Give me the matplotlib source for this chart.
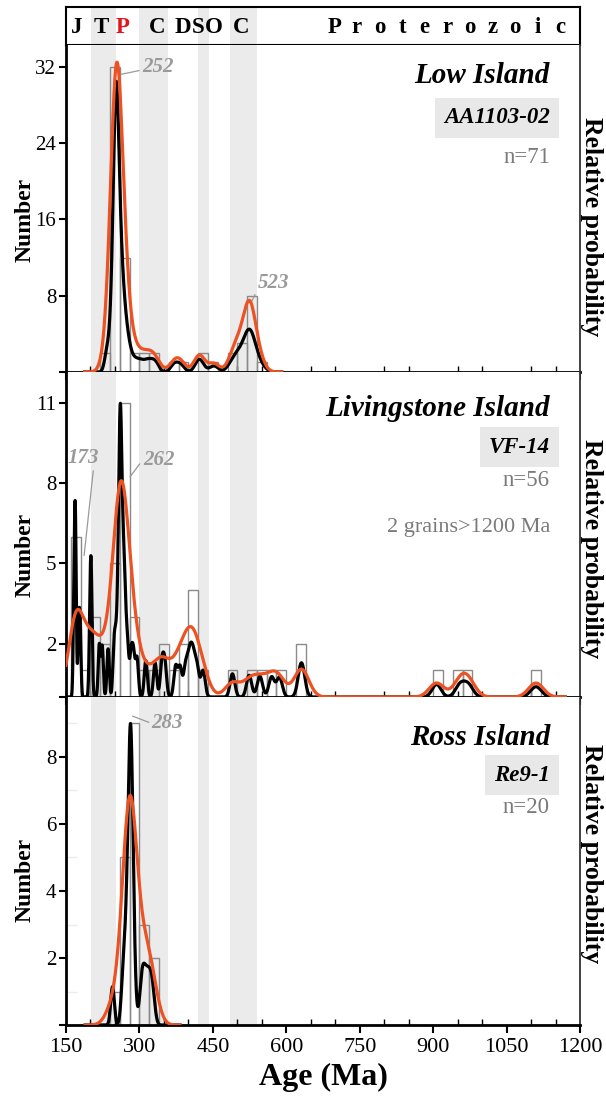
import numpy as np
import matplotlib.pyplot as plt

plt.rcParams['font.family'] = ['Liberation Serif', 'DejaVu Serif']

# shaded periods (Ma): Triassic, Carboniferous, Silurian, Cambrian
band_starts = [201, 299, 419, 485]
band_ends = [252, 359, 443, 541]

period_letters = ['J', 'T', 'P', 'C', 'D', 'S', 'O', 'C']
period_ages = [172, 222, 265, 337, 388, 421, 451, 508]
period_colors = ['black', 'black', '#e3141b', 'black', 'black', 'black', 'black', 'black']

sample_names = ['Low Island', 'Livingstone Island', 'Ross Island']
sample_ids = ['AA1103-02', 'VF-14', 'Re9-1']

# U-Pb zircon ages (Ma)
low_island_ages = [
    232, 237,
    241, 244, 246, 247, 248, 249, 249, 250, 250, 250, 251, 251, 251, 252,
    252, 252, 252, 253, 253, 253, 253, 254, 254, 254, 255, 255, 255, 256,
    256, 257, 258, 259,
    260, 261, 262, 263, 264, 265, 266, 268, 270, 272, 275, 278,
    284, 293, 303, 314, 324, 334, 371, 384, 421, 424, 452,
    488, 496, 503, 508, 514,
    521, 522, 524, 525, 526, 528, 532, 537, 547,
]
livingstone_ages = [
    166, 168, 169, 170, 176, 179, 199, 201, 202, 218, 224, 236,
    248, 252, 256, 258, 259,
    260, 261, 261, 262, 263, 264, 266, 268, 269, 272, 276,
    283, 288, 295, 313, 332, 346, 352, 374, 383, 394,
    401, 406, 411, 418, 430, 490, 524, 546, 570, 586, 629, 633,
    907, 955, 972, 1110, 1650, 2050,
]
ross_ages = [
    245, 266, 271, 274, 277, 279,
    280, 281, 282, 282, 283, 283, 284, 286, 289,
    304, 309, 315, 321, 327,
]
all_ages = [low_island_ages, livingstone_ages, ross_ages]

# relative 1-sigma of single grains and KDE bandwidth (Ma)
grain_err = [0.02, 0.01, 0.015]
kde_bw = [11, 15, 14]
# curve heights on the count axis
pdp_peak = [30.5, 11, 9]
kde_peak = [32.5, 8.1, 6.85]

y_top = [34.3, 12.17, 9.79]
y_ticks = [[8, 16, 24, 32], [2, 5, 8, 11], [2, 4, 6, 8]]

bin_edges = np.arange(140, 1221, 20)
x_min, x_max = 150, 1200

band_color = '#ebebeb'
kde_color = '#ee5222'
hist_color = '#8a8a8a'
note_color = '#9a9a9a'


def pdp_curve(ages, grid, rel_err):
    a = np.asarray(ages, float)
    s = a * rel_err
    z = (grid[:, None] - a[None, :]) / s[None, :]
    return (np.exp(-0.5 * z ** 2) / s).sum(axis=1)


def kde_curve(ages, grid, bw):
    a = np.asarray(ages, float)
    z = (grid[:, None] - a[None, :]) / bw
    return np.exp(-0.5 * z ** 2).sum(axis=1)


fig = plt.figure(figsize=(6.06, 10.99), dpi=100)
left, width = 0.1089, 0.8482

# period strip
ax_s = fig.add_axes([left, 0.9591, width, 0.0346])
ax_s.set_xlim(x_min, x_max)
ax_s.set_ylim(0, 1)
ax_s.set_xticks([])
ax_s.set_yticks([])
for sp in ax_s.spines.values():
    sp.set_linewidth(1.5)
for a, b in zip(band_starts, band_ends):
    ax_s.axvspan(a, b, color=band_color, lw=0, zorder=0)
for letter, age, c in zip(period_letters, period_ages, period_colors):
    ax_s.text(age, 0.47, letter, ha='center', va='center', fontsize=16.5,
              fontweight='bold', color=c)
for letter, age in zip('Proterozoic', np.linspace(698, 1160, 11)):
    ax_s.text(age, 0.47, letter, ha='center', va='center', fontsize=16.5,
              fontweight='bold')

panel_bottoms = [0.6615, 0.3658, 0.0673]
panel_heights = [0.2975, 0.2957, 0.2985]
title_y = [0.908, 0.889, 0.878]
id_y = [0.777, 0.769, 0.762]
n_y = [0.657, 0.667, 0.662]
number_y = [0.465, 0.437, 0.442]
relprob_y = [0.446, 0.455, 0.524]

grid = np.linspace(100, 1250, 8000)

axes = []
for i in range(3):
    ax = fig.add_axes([left, panel_bottoms[i], width, panel_heights[i]])
    axes.append(ax)
    ages = np.asarray(all_ages[i], float)

    for a, b in zip(band_starts, band_ends):
        ax.axvspan(a, b, color=band_color, lw=0, zorder=0)

    ax.hist(ages, bins=bin_edges, histtype='bar', fill=False,
            edgecolor=hist_color, linewidth=1.0, zorder=2)

    shown = ages[ages <= x_max]
    lo = shown.min() - 4 * kde_bw[i]
    hi = shown.max() + 4 * kde_bw[i]
    m = (grid >= lo) & (grid <= hi)
    p = pdp_curve(ages, grid, grain_err[i])
    k = kde_curve(ages, grid, kde_bw[i])
    ax.plot(grid[m], p[m] / p.max() * pdp_peak[i], color='black', lw=2.3, zorder=3)
    ax.plot(grid[m], k[m] / k.max() * kde_peak[i], color=kde_color, lw=2.3, zorder=4)

    ax.set_xlim(x_min, x_max)
    ax.set_ylim(0, y_top[i])
    ax.set_yticks([0] + y_ticks[i], [''] + [str(t) for t in y_ticks[i]])
    ax.set_xticks(np.arange(150, 1201, 150))
    ax.set_xticks(np.arange(150, 1201, 50), minor=True)
    ax.tick_params(axis='x', which='major', direction='out', length=6, width=1.5,
                   labelsize=16, labelbottom=(i == 2))
    ax.tick_params(axis='x', which='minor', direction='in', length=4, width=1.0)
    ax.tick_params(axis='y', which='major', direction='out', length=5, width=1.5,
                   labelsize=15, pad=2)
    ax.spines['left'].set_linewidth(2.0)
    ax.spines['bottom'].set_linewidth(2.0)
    ax.spines['top'].set_visible(False)
    ax.spines['right'].set_linewidth(1.3)
    ax.spines['right'].set_linestyle((0, (1, 1)))
    ax.spines['right'].set_color('#333333')

    ax.text(0.9416, title_y[i], sample_names[i], transform=ax.transAxes,
            ha='right', va='center', fontsize=21, fontweight='bold', style='italic')
    ax.text(0.9416, id_y[i], sample_ids[i], transform=ax.transAxes,
            ha='right', va='center', fontsize=16.5, fontweight='bold', style='italic',
            bbox=dict(boxstyle='square,pad=0.4', facecolor='#e8e8e8', edgecolor='none'))
    ax.text(0.9416, n_y[i], f'n={len(ages)}', transform=ax.transAxes,
            ha='right', va='center', fontsize=16.5, color='#7a7a7a')
    ax.text(-0.08, number_y[i], 'Number', transform=ax.transAxes, rotation=90,
            ha='center', va='center', fontsize=17, fontweight='bold')
    ax.text(1.023, relprob_y[i], 'Relative probability', transform=ax.transAxes,
            rotation=270, ha='center', va='center', fontsize=18.5, fontweight='bold')

# grains beyond the plotted range
n_old = int((np.asarray(livingstone_ages) > x_max).sum())
axes[1].text(0.9416, 0.523, f'{n_old} grains>{x_max} Ma', transform=axes[1].transAxes,
             ha='right', va='center', fontsize=16, color='#7a7a7a')

# faint minor ticks on the lowest panel
axes[2].set_yticks([1, 3, 5, 7, 9], minor=True)
axes[2].tick_params(axis='y', which='minor', direction='in', length=8, width=1.0,
                    color='#ececec')

# peak ages
note = dict(fontsize=15, fontweight='bold', style='italic', color=note_color)
line = dict(arrowstyle='-', color=note_color, lw=0.9, shrinkA=0, shrinkB=0)
axes[0].annotate('252', xy=(260, 31.2), xytext=(305, 32.0), ha='left', va='center',
                 arrowprops=dict(line, relpos=(0, 0.35)), **note)
axes[0].annotate('523', xy=(527, 7.2), xytext=(542, 9.3), ha='left', va='center',
                 arrowprops=dict(line, relpos=(0, 0.2)), **note)
axes[1].annotate('173', xy=(187, 5.3), xytext=(184.7, 8.95), ha='center', va='center',
                 arrowprops=dict(line, relpos=(0.85, 0.2)), **note)
axes[1].annotate('262', xy=(280.7, 8.24), xytext=(307, 8.88), ha='left', va='center',
                 arrowprops=dict(line, relpos=(-0.1, 0.3)), **note)
axes[2].annotate('283', xy=(286, 9.22), xytext=(325, 9.0), ha='left', va='center',
                 arrowprops=dict(line, relpos=(0, 0.5)), **note)

axes[2].set_xlabel('Age (Ma)', fontsize=23, fontweight='bold', labelpad=4)

fig.savefig('out.png', dpi=100)
